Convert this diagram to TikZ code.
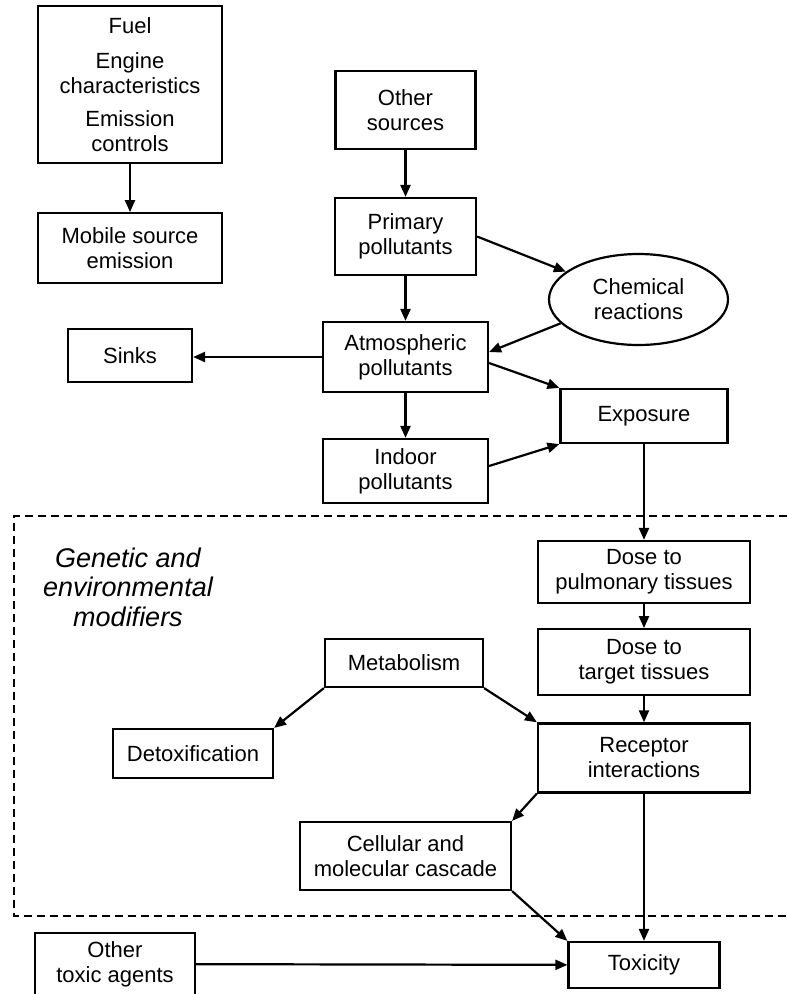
\documentclass[tikz,border=0pt]{standalone}
\usepackage{fontspec}
\setmainfont{Liberation Sans}
\usetikzlibrary{arrows.meta, positioning, shapes.geometric}

\begin{document}
\begin{tikzpicture}[
  x=1pt, y=-1pt,
  font=\fontsize{22}{25}\selectfont,
  box/.style  ={draw, line width=2.2pt, align=center, inner sep=0pt},
  oval/.style ={box, ellipse},
  flow/.style ={-{Triangle[length=12pt, width=10pt]}, line width=2.2pt},
  zone/.style ={dashed, dash pattern=on 8pt off 5pt, line width=2pt},
  lab/.style  ={font=\fontsize{27}{29.5}\selectfont\itshape, align=center},
]
\useasboundingbox (0,0) rectangle (789,994);

% emission side
\node[box, minimum width=184pt, minimum height=157pt] (fuel) at (130,84.5)
      {Fuel\\[10pt]Engine\\characteristics\\[8pt]Emission\\controls};
\node[box, minimum width=184pt, minimum height=70pt, below=48pt of fuel] (mob)
      {Mobile source\\emission};

% atmosphere
\node[box, minimum width=140pt, minimum height=78pt] (other) at (405.5,110) {Other\\sources};
\node[box, minimum width=141pt, minimum height=77pt] (prim)  at (405.5,236.5) {Primary\\pollutants};
\node[oval, minimum width=179pt, minimum height=91pt] (chem) at (638.5,299.5) {Chemical\\reactions};
\node[box, minimum width=165pt, minimum height=70pt] (atm)   at (405.5,357) {Atmospheric\\pollutants};
\node[box, minimum width=124pt, minimum height=53pt] (sinks) at (130,355.5) {Sinks};
\node[box, minimum width=167pt, minimum height=54pt] (expo)  at (644,416) {Exposure};
\node[box, minimum width=165pt, minimum height=64pt] (indoor) at (405.5,471) {Indoor\\pollutants};

% host side
\node[box, minimum width=212pt, minimum height=62pt] (pulm)   at (644,572) {Dose to\\pulmonary tissues};
\node[box, minimum width=212pt, minimum height=66pt, below=24pt of pulm] (target) {Dose to\\target tissues};
\node[box, minimum width=212pt, minimum height=69pt, below=26pt of target] (recep) {Receptor\\interactions};
\node[box, minimum width=158pt, minimum height=48pt] (metab)  at (404,663) {Metabolism};
\node[box, minimum width=160pt, minimum height=49pt] (detox)  at (193,753.5) {Detoxification};
\node[box, minimum width=211pt, minimum height=68pt] (cell)   at (405.5,856) {Cellular and\\molecular cascade};
\node[box, minimum width=151pt, minimum height=46pt] (tox)    at (644,965) {Toxicity};
\node[box, minimum width=160pt, minimum height=62pt] (otox)   at (115,964) {Other\\toxic agents};

\node[lab] (mods) at (128,587) {Genetic and\\environmental\\modifiers};

% modifier zone
\draw[zone] (800,516) -| (14,916) -- (800,916);

\draw[flow] (fuel)  -- (mob);
\draw[flow] (other) -- (prim);
\draw[flow] (prim)  -- (atm);
\draw[flow] (prim.east) -- (chem.159);
\draw[flow] (chem.197) -- ([yshift=5pt]atm.east);
\draw[flow] (atm.west) -- (atm.west -| sinks.east);
\draw[flow] (atm)   -- (indoor);
\draw[flow] ([yshift=-6pt]atm.east) -- (expo.north west);
\draw[flow] ([yshift=5pt]indoor.east) -- (expo.south west);
\draw[flow] (expo)  -- (pulm);
\draw[flow] (pulm)  -- (target);
\draw[flow] (target) -- (recep);
\draw[flow] (metab.south west) -- (detox.north east);
\draw[flow] (metab.south east) -- (recep.north west);
\draw[flow] (recep.south west) -- (cell.north east);
\draw[flow] (recep) -- (tox);
\draw[flow] (cell.south east) -- (tox.north west);
\draw[flow] (otox)  -- (tox);

\end{tikzpicture}
\end{document}
